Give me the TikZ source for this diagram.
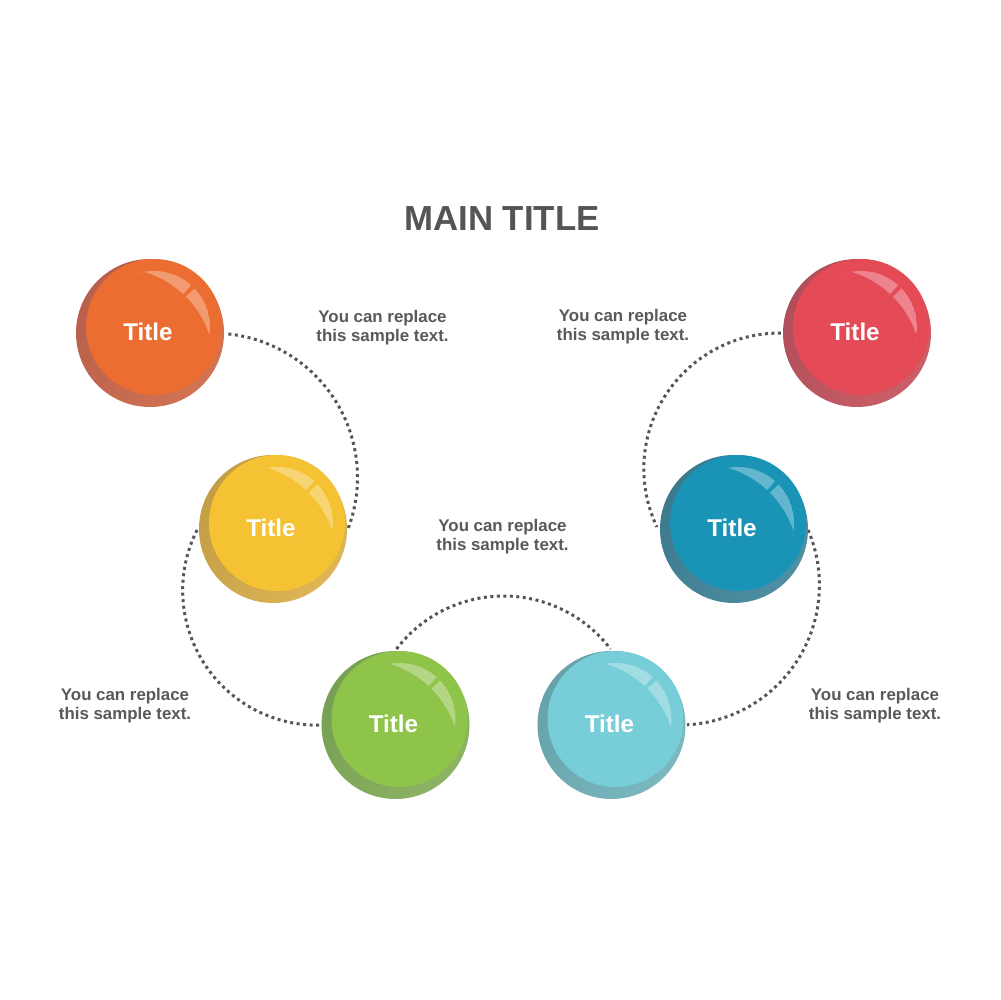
\documentclass[tikz,border=0pt]{standalone}
\usepackage{fontspec}
\setmainfont{Liberation Sans}
\definecolor{orangeF}{HTML}{EC6D31}\definecolor{orangeD}{HTML}{B8604C}\definecolor{orangeL}{HTML}{D27353}
\definecolor{yellowF}{HTML}{F4C233}\definecolor{yellowD}{HTML}{C49E45}\definecolor{yellowL}{HTML}{DEB556}
\definecolor{greenF}{HTML}{8FC44A}\definecolor{greenD}{HTML}{77A054}\definecolor{greenL}{HTML}{8DB463}
\definecolor{cyanF}{HTML}{77CED8}\definecolor{cyanD}{HTML}{66A2AA}\definecolor{cyanL}{HTML}{7CB8BF}
\definecolor{blueF}{HTML}{1A94B6}\definecolor{blueD}{HTML}{3D7A8E}\definecolor{blueL}{HTML}{4F8FA3}
\definecolor{redF}{HTML}{E54A57}\definecolor{redD}{HTML}{B04E59}\definecolor{redL}{HTML}{CA5F69}
\definecolor{dotgray}{HTML}{555555}
\definecolor{txtgray}{HTML}{595959}
\tikzset{
  dotline/.style={draw=dotgray, line width=1.7pt, dash pattern=on 1.7pt off 2pt},
  balltext/.style={text=white, font=\fontsize{13.8}{16}\selectfont\bfseries, inner sep=0pt},
  sampletext/.style={text=txtgray, align=center, font=\fontsize{9.6}{10.8}\selectfont\bfseries, inner sep=0pt},
  maintitle/.style={text=dotgray, font=\fontsize{19.8}{22}\selectfont\bfseries, inner sep=0pt},
  hilite/.style={white, opacity=0.32, even odd rule}
}
% #1 name, #2 position, #3 front, #4 shadow dark, #5 shadow light
\newcommand\glossball[5]{%
  \begin{scope}[shift={#2}]
    \shade[top color=#4, bottom color=#5, shading angle=60] (0,0) circle (74);
    \fill[#3] (4,6) circle (68);
    \begin{scope}
      \clip (4,6) -- +(112:100) -- +(48.5:100) -- cycle;
      \clip (4,6) circle (56);
      \fill[hilite] (4,6) circle (56) (-33.6,-32.9) circle (98.1);
    \end{scope}
    \begin{scope}
      \clip (4,6) -- +(43.5:100) -- +(-20:100) -- cycle;
      \clip (4,6) circle (56);
      \fill[hilite] (4,6) circle (56) (-33.6,-32.9) circle (98.1);
    \end{scope}
    \node[balltext] (#1) at (-2,1) {Title};
  \end{scope}}
\begin{document}
\begin{tikzpicture}[x=0.02cm, y=0.02cm]
  \useasboundingbox[fill=white] (0,0) rectangle (1000,1000);
  % arc centres of the dotted connectors
  \coordinate (k1) at (213.3,522.6);
  \coordinate (k2) at (317.4,409.5);
  \coordinate (k3) at (503.5,269.5);
  \coordinate (k4) at (679.5,414.9);
  \coordinate (k5) at (779.5,531.2);
  \draw[dotline] (k1) ++(84:144.2) arc[start angle=84, end angle=-20.6, radius=144.2];
  \draw[dotline] (k2) ++(153.3:134.7) arc[start angle=153.3, end angle=272, radius=134.7];
  \draw[dotline] (k3) ++(142.7:134.5) arc[start angle=142.7, end angle=37.3, radius=134.5];
  \draw[dotline] (k4) ++(23.2:139.9) arc[start angle=23.2, end angle=-86.9, radius=139.9];
  \draw[dotline] (k5) ++(89.4:135.7) arc[start angle=89.4, end angle=205.4, radius=135.7];
  % balls
  \glossball{b1}{(150,667)}{orangeF}{orangeD}{orangeL}
  \glossball{b2}{(273,471)}{yellowF}{yellowD}{yellowL}
  \glossball{b3}{(395.5,275)}{greenF}{greenD}{greenL}
  \glossball{b4}{(611.5,275)}{cyanF}{cyanD}{cyanL}
  \glossball{b5}{(734,471)}{blueF}{blueD}{blueL}
  \glossball{b6}{(857,667)}{redF}{redD}{redL}
  % texts
  \node[maintitle] (mt) at (502,781) {MAIN TITLE};
  \node[sampletext] (t1) at (382.5,672.5) {You can replace\\this sample text.};
  \node[sampletext] (t2) at (623,673) {You can replace\\this sample text.};
  \node[sampletext] (t3) at (502.5,463.5) {You can replace\\this sample text.};
  \node[sampletext] (t4) at (125,294.5) {You can replace\\this sample text.};
  \node[sampletext] (t5) at (875,294.5) {You can replace\\this sample text.};
\end{tikzpicture}
\end{document}
